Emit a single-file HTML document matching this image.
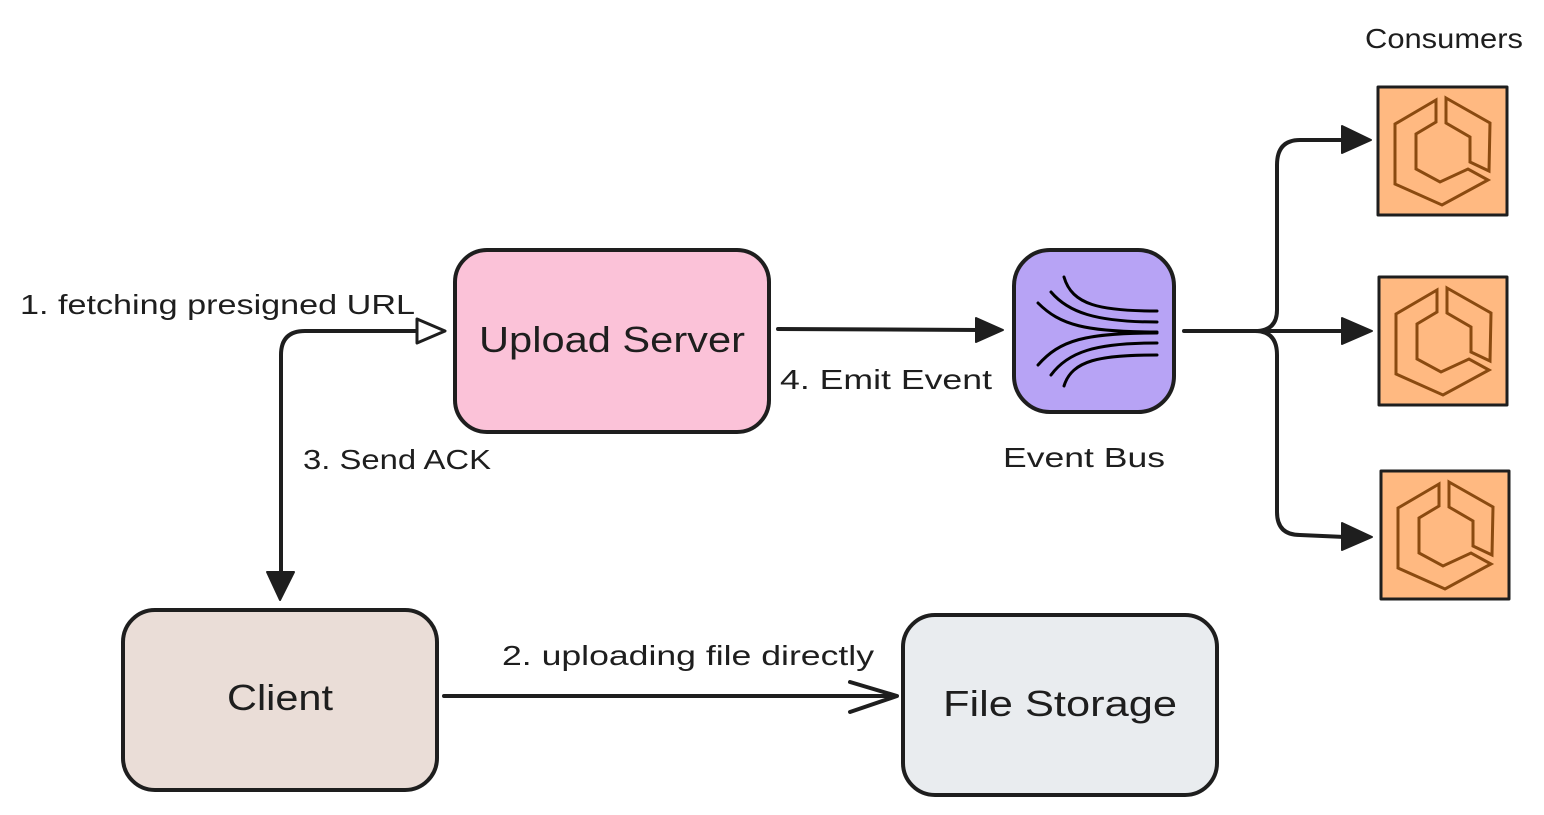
<!DOCTYPE html>
<html><head><meta charset="utf-8"><style>
html,body{margin:0;padding:0;background:#fff;}
svg{display:block;}
text{font-family:"Liberation Sans",sans-serif;fill:#1e1e1e;}
</style></head><body>
<svg width="1544" height="815" viewBox="0 0 1544 815" xmlns="http://www.w3.org/2000/svg">
<g stroke="#1e1e1e" stroke-width="4" stroke-linejoin="round" stroke-linecap="round">
  <rect x="455" y="250" width="314" height="182" rx="32" fill="#fbc2d8"/>
  <rect x="123" y="610" width="314" height="180" rx="32" fill="#eaddd7"/>
  <rect x="903" y="615" width="314" height="180" rx="32" fill="#e9ecef"/>
  <rect x="1014" y="250" width="160" height="162" rx="36" fill="#b7a3f5"/>
  <rect x="1378" y="87" width="129" height="128" fill="#ffb981" stroke-width="3"/>
  <rect x="1379" y="277" width="128" height="128" fill="#ffb981" stroke-width="3"/>
  <rect x="1381" y="471" width="128" height="128" fill="#ffb981" stroke-width="3"/>
</g>
<!-- event bus icon -->
<g fill="none" stroke="#000" stroke-width="3" stroke-linecap="round">
  <path d="M1064 277 C1072 305 1100 311 1157 311"/>
  <path d="M1051 292 C1068 312 1095 322 1157 322"/>
  <path d="M1038 303 C1060 325 1085 332 1157 332"/>
  <path d="M1038 365 C1060 340 1085 333 1157 333"/>
  <path d="M1051 375 C1068 352 1095 343 1157 343"/>
  <path d="M1064 386 C1072 360 1100 355 1157 355"/>
</g>
<!-- consumer icons -->
<defs>
  <g id="ci" fill="none" stroke="#8a4a10" stroke-width="3" stroke-linejoin="miter">
    <path d="M58 13 L17 37 L17 97 L64 118 L110 93 L90 82 L62 95 L38 82 L38 47 L58 35 Z"/>
    <path d="M68 11 L112 36 L111 84 L92 75 L92 50 L68 36 Z"/>
  </g>
</defs>
<use href="#ci" x="1378" y="87"/>
<use href="#ci" x="1379" y="277"/>
<use href="#ci" x="1381" y="471"/>
<!-- arrows -->
<g fill="none" stroke="#1e1e1e" stroke-width="4" stroke-linecap="round" stroke-linejoin="round">
  <path d="M281 575 L281 355 Q281 331 305 331 L418 331"/>
  <path d="M778 329 L980 330"/>
  <path d="M444 696 L890 696"/>
  <path d="M850 682 L897 696 L850 712"/>
  <path d="M1184 331 L1255 331 Q1277 331 1277 310 L1277 165 Q1277 140 1300 140 L1345 140"/>
  <path d="M1255 331 L1345 331"/>
  <path d="M1255 331 Q1277 331 1277 355 L1277 512 Q1277 535 1300 535 L1345 537"/>
</g>
<g fill="#1e1e1e" stroke="#1e1e1e" stroke-width="2" stroke-linejoin="round">
  <path d="M267 572 L294 572 L280 600 Z"/>
  <path d="M976 318 L1003 330 L976 342 Z"/>
  <path d="M1342 126 L1371 140 L1342 153 Z"/>
  <path d="M1342 318 L1372 331 L1342 344 Z"/>
  <path d="M1342 523 L1372 537 L1342 550 Z"/>
</g>
<path d="M417 319 L445 331 L417 343 Z" fill="#fff" stroke="#1e1e1e" stroke-width="3" stroke-linejoin="round"/>
<!-- labels -->
<text x="612" y="352" font-size="36" text-anchor="middle" textLength="266" lengthAdjust="spacingAndGlyphs">Upload Server</text>
<text x="280" y="710" font-size="36" text-anchor="middle" textLength="106" lengthAdjust="spacingAndGlyphs">Client</text>
<text x="1060" y="716" font-size="36" text-anchor="middle" textLength="234" lengthAdjust="spacingAndGlyphs">File Storage</text>
<text x="20" y="314" font-size="28" textLength="395" lengthAdjust="spacingAndGlyphs">1. fetching presigned URL</text>
<text x="303" y="469" font-size="28" textLength="188" lengthAdjust="spacingAndGlyphs">3. Send ACK</text>
<text x="780" y="389" font-size="28" textLength="212" lengthAdjust="spacingAndGlyphs">4. Emit Event</text>
<text x="1003" y="467" font-size="28" textLength="162" lengthAdjust="spacingAndGlyphs">Event Bus</text>
<text x="1365" y="48" font-size="28" textLength="158" lengthAdjust="spacingAndGlyphs">Consumers</text>
<text x="502" y="665" font-size="28" textLength="372" lengthAdjust="spacingAndGlyphs">2. uploading file directly</text>
</svg>
</body></html>
